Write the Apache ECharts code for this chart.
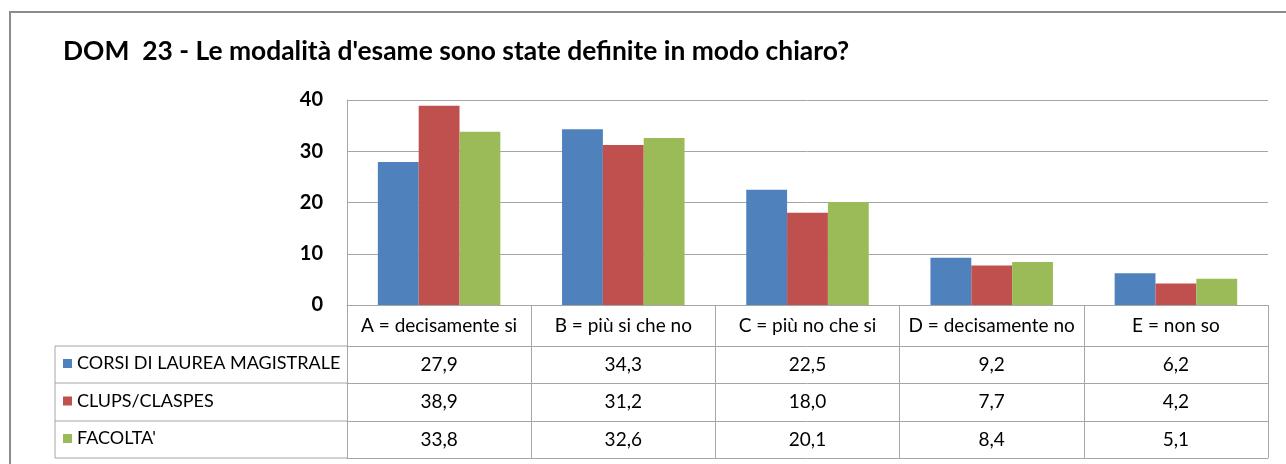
<!DOCTYPE html>
<html>
<head>
<meta charset="utf-8">
<script src="https://cdn.jsdelivr.net/npm/echarts@6/dist/echarts.min.js"></script>
<style>
    html, body { margin: 0; padding: 0; background: #fff; }
    #chart { width: 1286px; height: 464px; }
</style>
</head>
<body>
<div id="chart"></div>
<script>
let categories = ['A = decisamente si', 'B = più si che no', 'C = più no che si', 'D = decisamente no', 'E = non so'];
let seriesNames = ['CORSI DI LAUREA MAGISTRALE', 'CLUPS/CLASPES', "FACOLTA'"];
let magistrale = [27.9, 34.3, 22.5, 9.2, 6.2];
let clups = [38.9, 31.2, 18.0, 7.7, 4.2];
let facolta = [33.8, 32.6, 20.1, 8.4, 5.1];
let yTicks = [0, 10, 20, 30, 40];

let colors = ['#4F81BD', '#C0504D', '#9BBB59'];
let values = [magistrale, clups, facolta];
let font = 'Lato, "Liberation Sans", sans-serif';
let lineColor = '#a6a6a6';

// table layout (rows under the plot)
let plotBottom = 305;
let rowLines = [346, 383, 421, 458];
let tableLeft = 55;
let plotLeft = 347;

function fmt(v) {
    return v.toFixed(1).replace('.', ',');
}

let xAxes = [{
    type: 'category',
    data: categories,
    position: 'bottom',
    axisLine: {lineStyle: {color: lineColor, width: 1}},
    axisTick: {show: true, length: rowLines[3] - plotBottom, lineStyle: {color: lineColor}},
    axisLabel: {
        margin: 21, verticalAlign: 'middle', interval: 0,
        color: '#000', fontFamily: font, fontSize: 19
    }
}];
for (let i = 0; i < values.length; i++) {
    xAxes.push({
        type: 'category',
        data: values[i].map(fmt),
        position: 'bottom',
        offset: rowLines[i] - plotBottom,
        axisLine: {lineStyle: {color: lineColor, width: 1}},
        axisTick: {show: false},
        axisLabel: {
            margin: (rowLines[i + 1] - rowLines[i]) / 2, verticalAlign: 'middle', interval: 0,
            color: '#000', fontFamily: font, fontSize: 19
        }
    });
}
xAxes.push({
    type: 'category',
    data: categories,
    position: 'bottom',
    offset: rowLines[3] - plotBottom,
    axisLine: {lineStyle: {color: lineColor, width: 1}},
    axisTick: {show: false},
    axisLabel: {show: false}
});

let legends = [];
for (let i = 0; i < seriesNames.length; i++) {
    let center = (rowLines[i] + rowLines[i + 1]) / 2;
    legends.push({
        data: [seriesNames[i]],
        left: 63,
        top: center - 11,
        padding: 0,
        icon: 'rect',
        itemWidth: 9,
        itemHeight: 9,
        selectedMode: false,
        textStyle: {color: '#000', fontFamily: font, fontSize: 18, lineHeight: 20}
    });
}

let graphics = [{
    type: 'rect',
    shape: {x: 10, y: 12, width: 1400, height: 600},
    style: {fill: 'none', stroke: '#8c8c8c', lineWidth: 2},
    silent: true
}, {
    type: 'line',
    shape: {x1: tableLeft, y1: rowLines[0], x2: tableLeft, y2: rowLines[3]},
    style: {stroke: lineColor, lineWidth: 1}
}];
for (let y of rowLines) {
    graphics.push({
        type: 'line',
        shape: {x1: tableLeft, y1: y, x2: plotLeft, y2: y},
        style: {stroke: lineColor, lineWidth: 1}
    });
}

let series = [];
for (let i = 0; i < seriesNames.length; i++) {
    series.push({
        name: seriesNames[i],
        type: 'bar',
        xAxisIndex: 0,
        data: values[i],
        barGap: '0%',
        barCategoryGap: '33.5%',
        itemStyle: {color: colors[i]},
        animation: false
    });
}

let chart = echarts.init(document.getElementById('chart'));
chart.setOption({
    animation: false,
    color: colors,
    title: {
        text: "DOM  23 - Le modalità d'esame sono state definite in modo chiaro?",
        left: 58,
        top: 33,
        textStyle: {color: '#000', fontFamily: font, fontSize: 26.4, fontWeight: 'bold'}
    },
    grid: {left: plotLeft, right: 18, top: 100, bottom: 464 - plotBottom, containLabel: false},
    legend: legends,
    xAxis: xAxes,
    yAxis: {
        type: 'value',
        min: yTicks[0],
        max: yTicks[yTicks.length - 1],
        interval: 10,
        axisLine: {show: true, lineStyle: {color: lineColor}},
        axisTick: {show: false},
        splitLine: {lineStyle: {color: lineColor}},
        axisLabel: {margin: 24, color: '#000', fontFamily: font, fontSize: 20, fontWeight: 'bold'}
    },
    graphic: graphics,
    series: series
});
</script>
</body>
</html>
